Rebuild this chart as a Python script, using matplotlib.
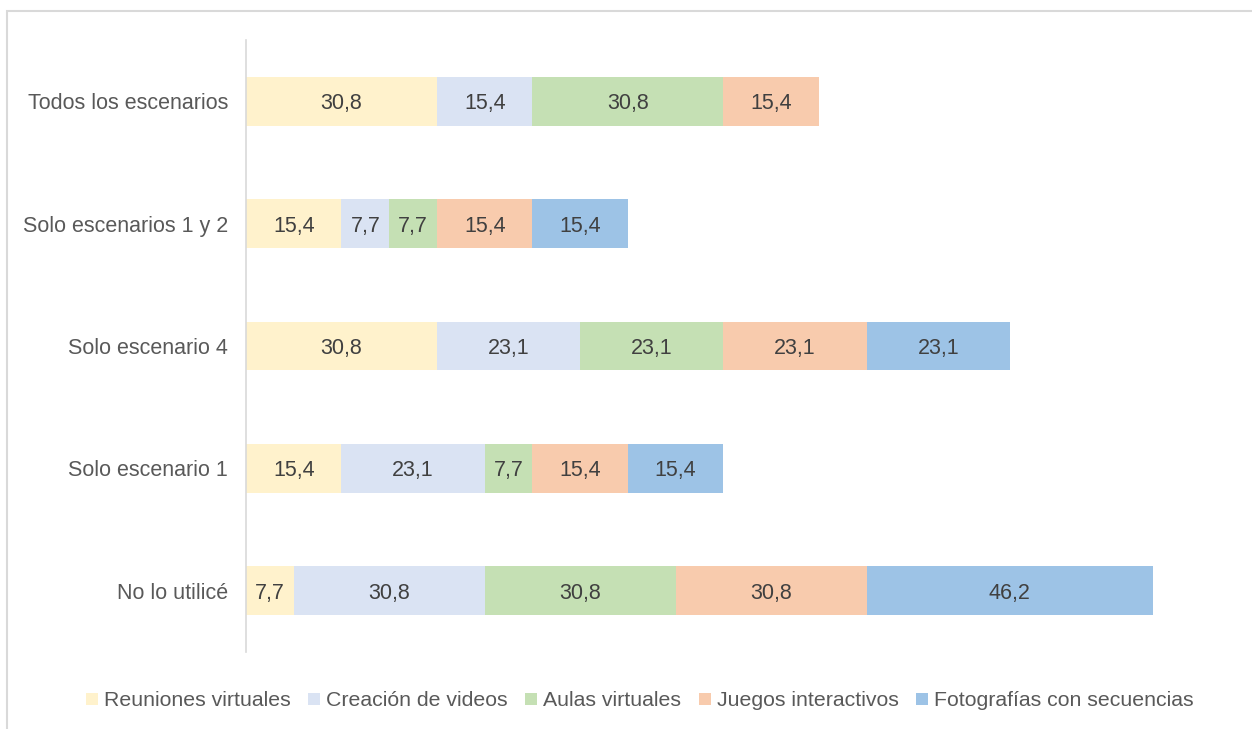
import matplotlib.pyplot as plt
import numpy as np
from matplotlib.patches import Rectangle, Patch

plt.rcParams['font.family'] = ['Liberation Sans', 'DejaVu Sans']

categories = ["No lo utilicé", "Solo escenario 1", "Solo escenario 4",
              "Solo escenarios 1 y 2", "Todos los escenarios"]
series = ["Reuniones virtuales", "Creación de videos", "Aulas virtuales",
          "Juegos interactivos", "Fotografías con secuencias"]
reuniones = [7.7, 15.4, 30.8, 15.4, 30.8]
creacion = [30.8, 23.1, 23.1, 7.7, 15.4]
aulas = [30.8, 7.7, 23.1, 7.7, 30.8]
juegos = [30.8, 15.4, 23.1, 15.4, 15.4]
fotografias = [46.2, 15.4, 23.1, 15.4, 0.0]
colors = ["#FFF2CC", "#DAE3F3", "#C5E0B4", "#F8CBAD", "#9DC3E6"]

fig = plt.figure(figsize=(12.52, 7.29), dpi=100)
ax = fig.add_axes([246 / 1252, 1 - 652 / 729, (1240 - 246) / 1252, (652 - 40) / 729])

# light frame around the chart area
fig.patches.append(Rectangle((7 / 1252, -0.05), 1.2, 1 - 11 / 729 + 0.05,
                             transform=fig.transFigure, fill=False,
                             edgecolor="#D9D9D9", linewidth=1.5))

y = np.arange(len(categories))
left = np.zeros(len(categories))
for name, vals, col in zip(series, [reuniones, creacion, aulas, juegos, fotografias], colors):
    vals = np.array(vals)
    ax.barh(y, vals, left=left, height=0.4, color=col, label=name)
    for yi, l, v in zip(y, left, vals):
        if v > 0:
            ax.text(l + v / 2, yi, f"{v:.1f}".replace(".", ","), ha="center",
                    va="center_baseline", fontsize=15.5, color="#404040")
    left += vals

ax.set_xlim(0, (1240 - 246) / 6.2)
ax.set_ylim(-0.5, 4.5)
ax.set_yticks(y)
ax.set_yticklabels(categories, fontsize=15.5, color="#595959")
ax.tick_params(axis="y", length=0, pad=13)
ax.set_xticks([])
for s in ["top", "right", "bottom"]:
    ax.spines[s].set_visible(False)
ax.spines["left"].set_color("#D9D9D9")
ax.spines["left"].set_linewidth(1.2)

handles = [Patch(facecolor=c, edgecolor="none") for c in colors]
fig.legend(handles, series, loc="center", bbox_to_anchor=(640 / 1252, 1 - 701 / 729),
           ncol=5, frameon=False, fontsize=15.3, handlelength=0.55, handleheight=0.55,
           handletextpad=0.3, columnspacing=0.82, labelcolor="#595959")

fig.savefig("out.png", dpi=100)
